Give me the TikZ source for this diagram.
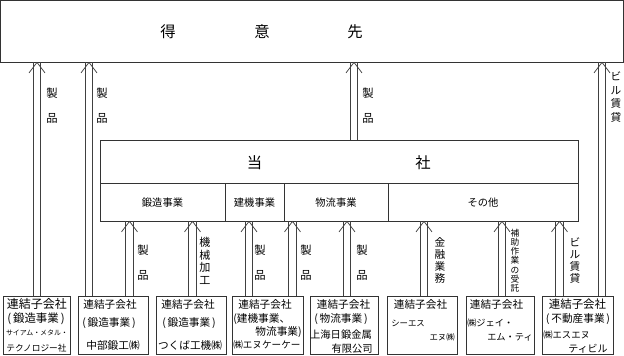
\documentclass[tikz,border=0pt]{standalone}
\usepackage{fontspec}
\setmainfont{Noto Sans CJK JP}
\usetikzlibrary{calc,fit}
\newcommand\fs[2]{\fontsize{#1}{#2}\selectfont}
\tikzset{
  frame/.style={draw=black!80, line width=0.6pt, inner sep=0pt},
  divline/.style={draw=black!80, line width=0.6pt},
  arrline/.style={draw=black!75, line width=0.55pt},
  txt/.style={inner sep=0pt, font=\fs{8}{9}},
  lab/.style={inner sep=0pt, align=center, font=\fs{8.5}{18.75}},
}
\newcommand\hollowarrow[3]{%
  \draw[arrline] ($(#1|-#2.north)+(-3.7,0)$) -- ($(#1|-#3.south)+(-3.7,0)$);
  \draw[arrline] ($(#1|-#2.north)+(3.7,0)$) -- ($(#1|-#3.south)+(3.7,0)$);
  \draw[arrline] ($(#1|-#3.south)+(-8,10.5)$) -- (#1|-#3.south) -- ($(#1|-#3.south)+(8,10.5)$);
}
\begin{document}
\begin{tikzpicture}[x=0.75pt,y=-0.75pt]
\useasboundingbox (0,0) rectangle (624,356);
% customers
\node[frame, fit={(0.6,0.6) (623.4,62)}] (cust) {};
\node[txt, font=\fs{11.5}{12}] (custa) at (168,32) {得};
\node[txt, font=\fs{11.5}{12}] (custb) at (262,32) {意};
\node[txt, font=\fs{11.5}{12}] (custc) at (355,32) {先};
% company
\node[frame, fit={(100,140) (578,221)}] (tosha) {};
\draw[divline] (100,183) -- (578,183);
\draw[divline] (225,183) -- (225,221);
\draw[divline] (284,183) -- (284,221);
\draw[divline] (388,183) -- (388,221);
\node[txt, font=\fs{11.5}{12}] (tosha1) at (254.5,163) {当};
\node[txt, font=\fs{11.5}{12}] (tosha2) at (423,163) {社};
\node[txt, font=\fs{7.7}{8}] (sec1) at (162.5,203) {鍛造事業};
\node[txt, font=\fs{7.7}{8}] (sec2) at (254.5,203) {建機事業};
\node[txt, font=\fs{7.7}{8}] (sec3) at (336,203) {物流事業};
\node[txt, font=\fs{7.7}{8}] (sec4) at (483,203) {その他};
% subsidiaries
\node[frame, fit={(3,296) (70,354)}] (k1) {};
\node[frame, fit={(78,296) (148,354)}] (k2) {};
\node[frame, fit={(156,296) (226,354)}] (k3) {};
\node[frame, fit={(232,296) (303,354)}] (k4) {};
\node[frame, fit={(310,296) (378,354)}] (k5) {};
\node[frame, fit={(387,296) (457,354)}] (k6) {};
\node[frame, fit={(466,296) (534,354)}] (k7) {};
\node[frame, fit={(542,296) (613,354)}] (k8) {};
% box 1
\node[txt, font=\fs{9}{10}] (k1a) at (37,304) {連結子会社};
\node[txt, font=\fs{8.6}{10}] (k1b) at (36,318.5) {(\,鍛造事業\,)};
\node[txt, font=\fs{5.2}{6}] (k1c) at (37,333) {サイアム・メタル・};
\node[txt, font=\fs{6.5}{7}] (k1d) at (36.5,348) {テクノロジー社};
% box 2
\node[txt] (k2a) at (110,304) {連結子会社};
\node[txt] (k2b) at (109,323) {(\,鍛造事業\,)};
\node[txt] (k2c) at (113,345.5) {中部鍛工㈱};
% box 3
\node[txt] (k3a) at (188,304) {連結子会社};
\node[txt] (k3b) at (189,323) {(\,鍛造事業\,)};
\node[txt] (k3c) at (190,345.5) {つくば工機㈱};
% box 4
\node[txt] (k4a) at (265,304) {連結子会社};
\node[txt, anchor=west] (k4b) at (233,319) {(建機事業、};
\node[txt, anchor=east] (k4c) at (302,332) {物流事業)};
\node[txt, font=\fs{7.2}{8}, anchor=west] (k4d) at (233,345) {㈱エヌケーケー};
% box 5
\node[txt] (k5a) at (343.5,304) {連結子会社};
\node[txt] (k5b) at (341,319) {(\,物流事業\,)};
\node[txt, font=\fs{7.7}{8}] (k5c) at (341,335) {上海日鍛金属};
\node[txt, font=\fs{7.7}{8}, anchor=east] (k5d) at (373,349) {有限公司};
% box 6
\node[txt] (k6a) at (420.5,304) {連結子会社};
\node[txt, font=\fs{6.3}{7}, anchor=west] (k6b) at (391,323) {シーエス};
\node[txt, font=\fs{6.3}{7}, anchor=east] (k6c) at (455,337) {エヌ㈱};
% box 7
\node[txt] (k7a) at (496.5,304) {連結子会社};
\node[txt, font=\fs{6.9}{7}, anchor=west] (k7b) at (467,323) {㈱ジェイ・};
\node[txt, font=\fs{6.9}{7}, anchor=east] (k7c) at (533,337) {エム・ティ};
% box 8
\node[txt, font=\fs{8.6}{9}] (k8a) at (577.5,304) {連結子会社};
\node[txt] (k8b) at (578,319) {(\,不動産事業\,)};
\node[txt, font=\fs{7}{8}, anchor=west] (k8c) at (543,335) {㈱エスエヌ};
\node[txt, font=\fs{7.5}{8}, anchor=east] (k8d) at (608,349) {ティビル};
% arrow x positions
\coordinate (xa1) at (37,0);
\coordinate (xa2) at (89,0);
\coordinate (xa3) at (354,0);
\coordinate (xa4) at (602,0);
\coordinate (xb1) at (129.5,0);
\coordinate (xb2) at (192.5,0);
\coordinate (xb3) at (249,0);
\coordinate (xb4) at (292.5,0);
\coordinate (xb5) at (347,0);
\coordinate (xb6) at (424,0);
\coordinate (xb7) at (502,0);
\coordinate (xb8) at (559.5,0);
% arrows to customers
\hollowarrow{xa1}{k1}{cust}
\hollowarrow{xa2}{k2}{cust}
\hollowarrow{xa3}{tosha}{cust}
\hollowarrow{xa4}{k8}{cust}
% arrows to company
\hollowarrow{xb1}{k2}{tosha}
\hollowarrow{xb2}{k3}{tosha}
\hollowarrow{xb3}{k4}{tosha}
\hollowarrow{xb4}{k4}{tosha}
\hollowarrow{xb5}{k5}{tosha}
\hollowarrow{xb6}{k6}{tosha}
\hollowarrow{xb7}{k7}{tosha}
\hollowarrow{xb8}{k8}{tosha}
% labels
\node[lab] (la1) at (52,105.5) {製\\品};
\node[lab] (la2) at (102,105.5) {製\\品};
\node[lab] (la3) at (368,105.5) {製\\品};
\node[lab, font=\fs{8}{10.2}] (la4) at (616,97) {ビ\\ル\\賃\\貸};
\node[lab, font=\fs{8.3}{9.5}] (lb2) at (205,261) {機\\械\\加\\工};
\node[lab] (lb1) at (143,263) {製\\品};
\node[lab] (lb3) at (260,263) {製\\品};
\node[lab] (lb4) at (306,263) {製\\品};
\node[lab] (lb5) at (362,263) {製\\品};
\node[lab, font=\fs{8}{8.8}] (lb6) at (440,260.5) {金\\融\\業\\務};
\node[lab, font=\fs{6.5}{6.9}] (lb7) at (515,260.5) {補\\助\\作\\業\\の\\受\\託};
\node[lab, font=\fs{8}{8.8}] (lb8) at (575,260.5) {ビ\\ル\\賃\\貸};
\end{tikzpicture}
\end{document}
